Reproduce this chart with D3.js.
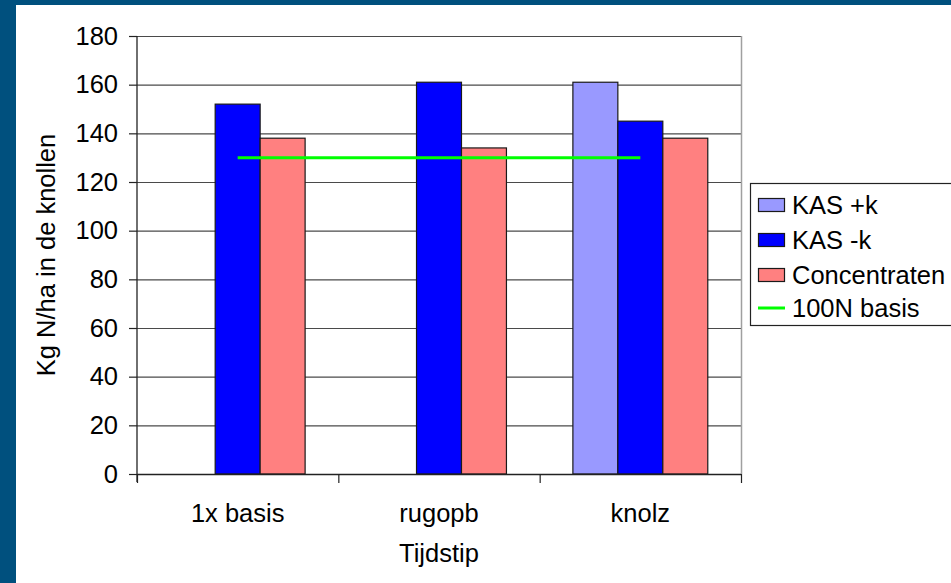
<!DOCTYPE html>
<html>
<head>
<meta charset="utf-8">
<script src="https://cdn.jsdelivr.net/npm/d3@7/dist/d3.min.js"></script>
<style>
  html, body { margin: 0; padding: 0; background: #00507e; }
  svg { display: block; }
  text { font-family: Arial, "Liberation Sans", sans-serif; fill: #000; }
</style>
</head>
<body>
<script>
// Tijdstip categories and N uptake per treatment (kg N/ha)
const categories = ["1x basis", "rugopb", "knolz"];
const seriesNames = ["KAS +k", "KAS -k", "Concentraten"];
const kasPlusK = [null, null, 161];
const kasMinK = [152, 161, 145];
const concentraten = [138, 134, 138];
const basis100N = [130, 130, 130];
const lineName = "100N basis";
const yTicks = [0, 20, 40, 60, 80, 100, 120, 140, 160, 180];
const yTitle = "Kg N/ha in de knollen";
const xTitle = "Tijdstip";

const colors = ["#9999ff", "#0000ff", "#ff8080"];
const lineColor = "#00ff00";
const seriesValues = [kasPlusK, kasMinK, concentraten];

const W = 951, H = 583;
const svg = d3.select("body").append("svg").attr("width", W).attr("height", H);

// dark frame with white chart area
svg.append("rect").attr("x", 0).attr("y", 0).attr("width", W).attr("height", H).attr("fill", "#00507e");
svg.append("rect").attr("x", 16).attr("y", 5).attr("width", W - 16).attr("height", H - 5).attr("fill", "#fff");

const plot = { left: 137, right: 741, top: 36, bottom: 474 };
const fs = 25.5;

const y = d3.scaleLinear().domain([0, 180]).range([plot.bottom, plot.top]);
const x0 = d3.scaleBand().domain(categories).range([plot.left, plot.right]).padding(0);
const groupW = x0.bandwidth() * 0.67;
const groupOff = (x0.bandwidth() - groupW) / 2;
const x1 = d3.scaleBand().domain(seriesNames).range([0, groupW]).padding(0);

// gridlines
svg.append("g")
  .selectAll("line").data(yTicks.filter(t => t > 0)).join("line")
  .attr("x1", plot.left).attr("x2", plot.right)
  .attr("y1", d => y(d) + 0.5).attr("y2", d => y(d) + 0.5)
  .attr("stroke", "#4a4a4a").attr("stroke-width", 1.2);

// plot frame (right edge)
svg.append("line")
  .attr("x1", plot.right + 0.5).attr("x2", plot.right + 0.5)
  .attr("y1", plot.top).attr("y2", plot.bottom)
  .attr("stroke", "#a0a0a0").attr("stroke-width", 1.5);

// bars
const barData = [];
seriesNames.forEach((s, si) => {
  categories.forEach((c, ci) => {
    const v = seriesValues[si][ci];
    if (v != null) barData.push({ s, c, v, color: colors[si] });
  });
});
svg.append("g")
  .selectAll("rect").data(barData).join("rect")
  .attr("x", d => x0(d.c) + groupOff + x1(d.s))
  .attr("y", d => y(d.v))
  .attr("width", x1.bandwidth())
  .attr("height", d => y(0) - y(d.v))
  .attr("fill", d => d.color)
  .attr("stroke", "#1a1a1a").attr("stroke-width", 1.2);

// 100N basis reference line through category centres
const line = d3.line()
  .x((d, i) => x0(categories[i]) + x0.bandwidth() / 2)
  .y(d => y(d));
svg.append("path").datum(basis100N)
  .attr("d", line).attr("fill", "none")
  .attr("stroke", lineColor).attr("stroke-width", 3);

// y axis
const yAxis = d3.axisLeft(y).tickValues(yTicks).tickSize(8).tickPadding(11).tickFormat(d3.format("d"));
const gy = svg.append("g").attr("transform", `translate(${plot.left},0)`).call(yAxis);
gy.select(".domain").attr("stroke", "#222").attr("stroke-width", 1.3).attr("d", `M0,${plot.top}V${plot.bottom + 8}`);
gy.selectAll(".tick line").attr("stroke", "#222").attr("stroke-width", 1.2);
gy.selectAll(".tick text").attr("font-size", fs).attr("font-family", "Arial, 'Liberation Sans', sans-serif").attr("fill", "#000");

// x axis with ticks at category boundaries
const xAxisG = svg.append("g").attr("transform", `translate(0,${plot.bottom})`);
xAxisG.append("line").attr("x1", plot.left).attr("x2", plot.right)
  .attr("y1", 0.5).attr("y2", 0.5).attr("stroke", "#222").attr("stroke-width", 1.3);
const bounds = categories.map(c => x0(c)).concat([plot.right]);
xAxisG.selectAll("line.tk").data(bounds).join("line").attr("class", "tk")
  .attr("x1", d => d + 0.5).attr("x2", d => d + 0.5)
  .attr("y1", 0).attr("y2", 9).attr("stroke", "#222").attr("stroke-width", 1.2);
xAxisG.selectAll("text.cat").data(categories).join("text").attr("class", "cat")
  .attr("x", d => x0(d) + x0.bandwidth() / 2)
  .attr("y", 48)
  .attr("text-anchor", "middle").attr("font-size", fs)
  .text(d => d);

// axis titles
svg.append("text")
  .attr("transform", `translate(55,${(plot.top + plot.bottom) / 2}) rotate(-90)`)
  .attr("text-anchor", "middle").attr("font-size", fs)
  .text(yTitle);
svg.append("text")
  .attr("x", (plot.left + plot.right) / 2).attr("y", 562)
  .attr("text-anchor", "middle").attr("font-size", fs)
  .text(xTitle);

// legend
const lg = svg.append("g").attr("transform", "translate(750,183)");
lg.append("rect").attr("x", 0.5).attr("y", 0.5).attr("width", 240).attr("height", 142)
  .attr("fill", "#fff").attr("stroke", "#222").attr("stroke-width", 1.2);
const rowY = [22, 57, 92, 125];
seriesNames.forEach((s, i) => {
  lg.append("rect").attr("x", 8.5).attr("y", rowY[i] - 6.5).attr("width", 26).attr("height", 13)
    .attr("fill", colors[i]).attr("stroke", "#1a1a1a").attr("stroke-width", 1.2);
  lg.append("text").attr("x", 42).attr("y", rowY[i]).attr("dy", "0.35em")
    .attr("font-size", fs).text(s);
});
lg.append("line").attr("x1", 8).attr("x2", 35).attr("y1", rowY[3]).attr("y2", rowY[3])
  .attr("stroke", lineColor).attr("stroke-width", 3);
lg.append("text").attr("x", 42).attr("y", rowY[3]).attr("dy", "0.35em")
  .attr("font-size", fs).text(lineName);
</script>
</body>
</html>
